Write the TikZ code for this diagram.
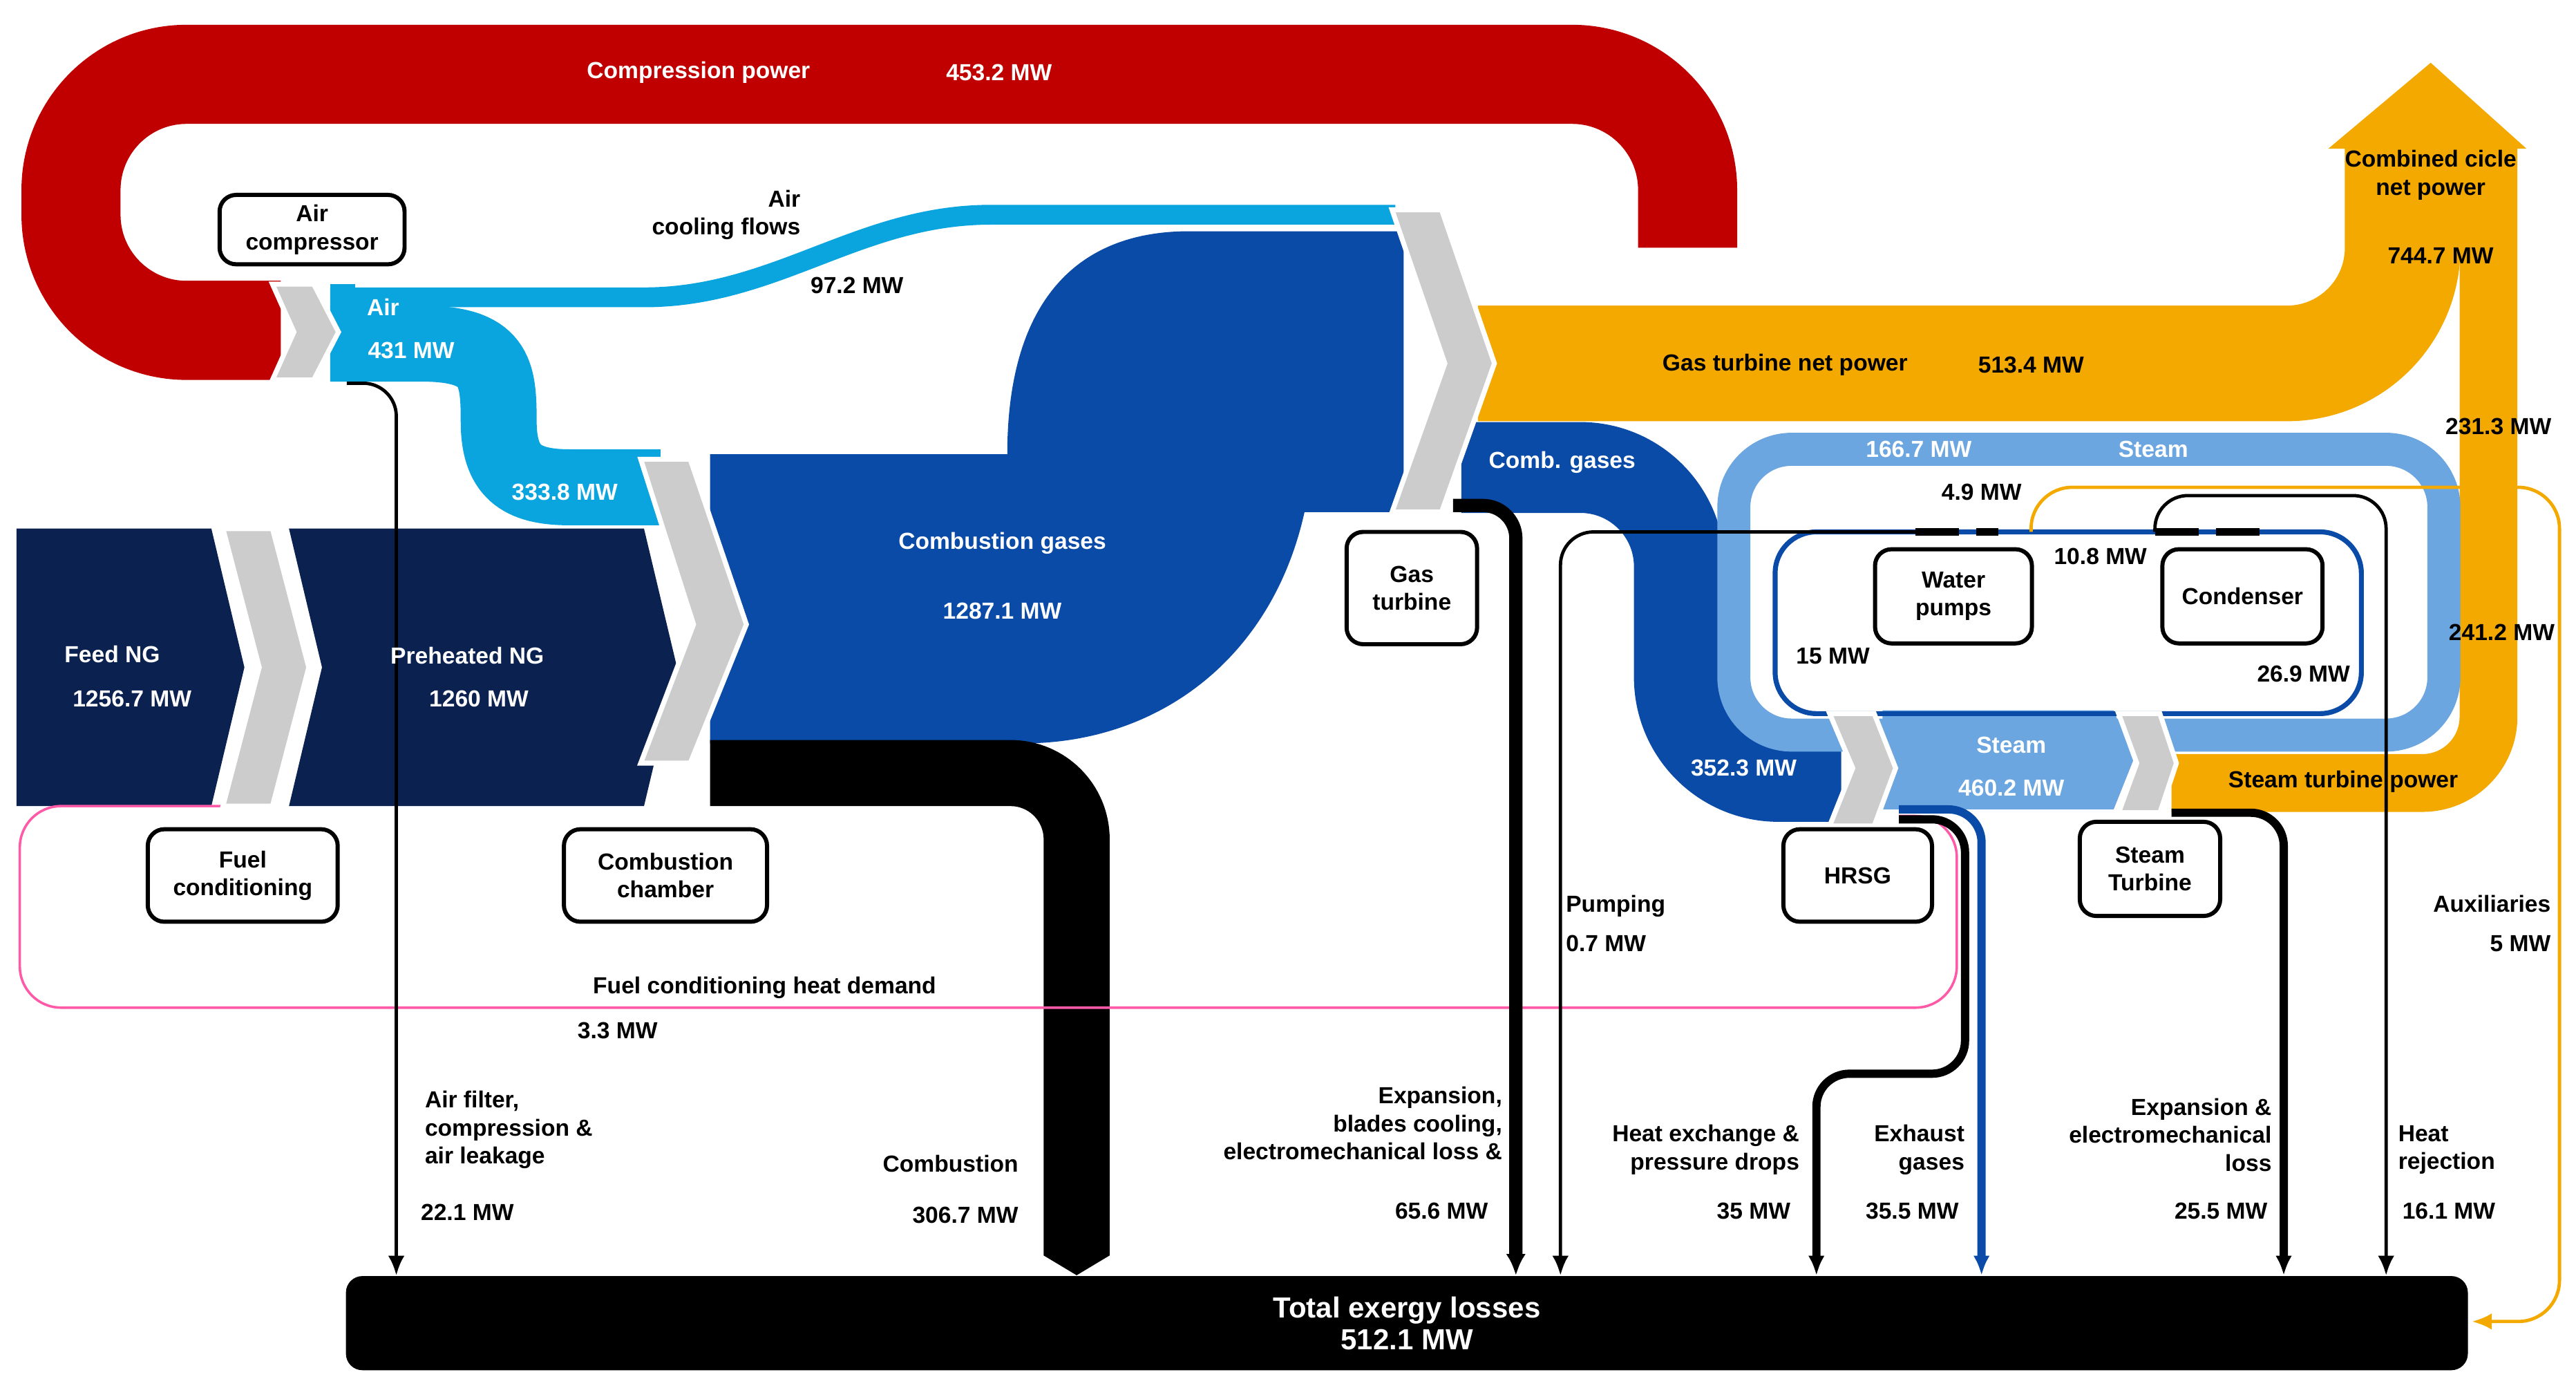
\documentclass[tikz,border=0pt]{standalone}
\usepackage{fontspec}
\setmainfont{Liberation Sans}
\usetikzlibrary{arrows.meta}
\definecolor{compred}{HTML}{C00000}
\definecolor{airblue}{HTML}{0AA5DF}
\definecolor{ngnavy}{HTML}{0B2150}
\definecolor{gasblue}{HTML}{0A4BA8}
\definecolor{powerorange}{HTML}{F4A900}
\definecolor{steamblue}{HTML}{6CA6E0}
\definecolor{chevgray}{HTML}{CCCCCC}
\definecolor{heatpink}{HTML}{FF5AA8}
\tikzset{
  lbl/.style={font=\fontsize{8}{9.6}\bfseries\selectfont, inner sep=0pt},
  wlbl/.style={lbl, text=white},
  unit/.style={draw=black, fill=white, line width=0.5mm, rounded corners=2mm,
    align=center, font=\fontsize{8}{9.6}\bfseries\selectfont, inner sep=1pt},
  chevron/.style={fill=chevgray, draw=white, line width=0.6mm},
  loss/.style={draw=black, line width=0.4mm, -{Latex[length=2.4mm,width=2mm]}, rounded corners=4mm},
}
\begin{document}
\begin{tikzpicture}[x=0.2mm, y=-0.2mm]
  \useasboundingbox (0,0) rectangle (1560,840);
  % bands
  \draw[compred, line width=12mm, rounded corners=14mm] (170,200) -- (43,200) -- (43,45) -- (1022,45) -- (1022,150);
  \fill[gasblue] (430,275) -- (610,275) .. controls (610,185) and (650,140) .. (720,140) -- (850,140)
    -- (850,310) -- (790,310) .. controls (770,400) and (700,450) .. (620,450) -- (430,450) -- cycle;
  \draw[airblue, line width=2.4mm] (200,180) -- (390,180) .. controls (470,180) and (520,130) .. (600,130) -- (845,130);
  \draw[airblue, line width=9.2mm] (200,208) -- (255,208) .. controls (300,208) and (302,225) .. (302,255)
    .. controls (302,285) and (315,295) .. (345,295) -- (400,295);
  \fill[airblue] (200,172) rectangle (215,231);
  \fill[ngnavy] (10,320) -- (128,320) -- (148,404) -- (128,488) -- (10,488) -- cycle;
  \fill[ngnavy] (175,320) -- (390,320) -- (410,404) -- (390,488) -- (175,488) -- (195,404) -- cycle;
  \draw[black, line width=8mm, rounded corners=8mm] (430,468) -- (652,468) -- (652,760);
  \fill[black] (632,760) -- (672,760) -- (652,772) -- cycle;
  \draw[powerorange, line width=14mm, rounded corners=14mm] (895,220) -- (1455,220) -- (1455,88);
  \draw[powerorange, line width=7mm, rounded corners=8mm] (1315,474) -- (1507,474) -- (1507,88);
  \fill[powerorange] (1410,90) -- (1530,90) -- (1472,38) -- cycle;
  \draw[gasblue, line width=11mm, rounded corners=12mm] (885,283) -- (1017,283) -- (1017,470) -- (1115,470);
  \draw[steamblue, line width=4mm, rounded corners=7mm] (1050,272) rectangle (1480,445);
  \fill[steamblue] (1140,430) -- (1280,430) -- (1292,460) -- (1280,490) -- (1140,490) -- cycle;
  \draw[gasblue, line width=0.6mm, rounded corners=5mm] (1075,322) rectangle (1430,432);
  % thin flows
  \draw[heatpink, line width=0.3mm, rounded corners=5mm] (140,488) -- (12,488) -- (12,610) -- (1185,610) -- (1185,494) -- (1150,494);
  \draw[black, line width=1mm, dash pattern=on 15pt off 6pt] (1160,322) -- (1210,322);
  \draw[black, line width=1mm, dash pattern=on 15pt off 6pt] (1305,322) -- (1372,322);
  \draw[powerorange, line width=0.4mm, rounded corners=5mm, -{Latex[length=2.4mm,width=2mm]}] (1230,322) -- (1230,295) -- (1550,295) -- (1550,800) -- (1497,800);
  % exergy losses
  \node[fill=black, rounded corners=2mm, minimum width=257mm, minimum height=11.4mm, text=white, align=center,
    font=\fontsize{10}{11}\bfseries\selectfont, inner sep=0pt] (total) at (852,801) {Total exergy losses\\512.1 MW};
  \draw[loss] (1160,322) -- (945,322) -- (945,0 |- total.north);
  \draw[loss] (210,232) -- (240,232) -- (240,0 |- total.north);
  \draw[loss, line width=1.6mm, -{Latex[length=2.6mm,width=2.4mm]}] (880,306) -- (918,306) -- (918,0 |- total.north);
  \draw[loss, line width=1mm] (1150,496) -- (1190,496) -- (1190,650) -- (1100,650) -- (1100,0 |- total.north);
  \draw[loss, draw=gasblue, line width=1mm] (1150,490) -- (1200,490) -- (1200,0 |- total.north);
  \draw[loss, line width=1mm] (1315,492) -- (1383,492) -- (1383,0 |- total.north);
  \draw[loss] (1305,322) -- (1305,300) -- (1445,300) -- (1445,0 |- total.north);
  % chevrons
  \draw[chevron] (165,172) -- (190,172) -- (205,201) -- (190,230) -- (165,230) -- (178,201) -- cycle;
  \draw[chevron] (135,320) -- (165,320) -- (187,404) -- (165,488) -- (135,488) -- (157,404) -- cycle;
  \draw[chevron] (388,278) -- (418,278) -- (452,378) -- (418,462) -- (388,462) -- (420,378) -- cycle;
  \draw[chevron] (843,127) -- (873,127) -- (905,220) -- (873,310) -- (843,310) -- (875,220) -- cycle;
  \draw[chevron] (1108,432) -- (1135,432) -- (1148,465) -- (1135,500) -- (1108,500) -- (1122,465) -- cycle;
  \draw[chevron] (1283,432) -- (1308,432) -- (1318,462) -- (1308,492) -- (1283,492) -- (1294,462) -- cycle;
  % units
  \node[unit, minimum width=22.4mm, minimum height=8.4mm] (compressor) at (189,139) {Air\\compressor};
  \node[unit, minimum width=23mm, minimum height=11.2mm] (fuelcond) at (147,530) {Fuel\\conditioning};
  \node[unit, minimum width=24.6mm, minimum height=11.2mm] (chamber) at (403,530) {Combustion\\chamber};
  \node[unit, minimum width=15.8mm, minimum height=13.6mm] (turbine) at (855,356) {Gas\\turbine};
  \node[unit, minimum width=19mm, minimum height=11.4mm] (pumps) at (1183,361) {Water\\pumps};
  \node[unit, minimum width=19.4mm, minimum height=11.4mm] (condenser) at (1358,361) {Condenser};
  \node[unit, minimum width=18mm, minimum height=11.2mm] (hrsg) at (1125,530) {HRSG};
  \node[unit, minimum width=17mm, minimum height=11.4mm] (steamturb) at (1302,526) {Steam\\Turbine};
  % labels
  \node[wlbl] (lcomp) at (423,44) {Compression power};
  \node[wlbl] (vcomp) at (605,44) {453.2 MW};
  \node[lbl, align=right, anchor=east] (lcool) at (485,130) {Air\\cooling flows};
  \node[lbl] (vcool) at (519,173) {97.2 MW};
  \node[wlbl] (lair) at (232,186) {Air};
  \node[wlbl] (vair) at (249,212) {431 MW};
  \node[wlbl] (vair2) at (342,298) {333.8 MW};
  \node[wlbl] (lfeed) at (68,396) {Feed NG};
  \node[wlbl] (vfeed) at (80,423) {1256.7 MW};
  \node[wlbl] (lpre) at (283,397) {Preheated NG};
  \node[wlbl] (vpre) at (290,423) {1260 MW};
  \node[wlbl] (lgas) at (607,329) {Combustion gases};
  \node[wlbl] (vgas) at (607,370) {1287.1 MW};
  \node[lbl] (lgtp) at (1081,221) {Gas turbine net power};
  \node[lbl] (vgtp) at (1230,221) {513.4 MW};
  \node[wlbl] (lcg) at (946,280) {Comb. gases};
  \node[wlbl] (vloop) at (1162,272) {166.7 MW};
  \node[wlbl] (lloop) at (1304,272) {Steam};
  \node[lbl] (vpump1) at (1200,298) {4.9 MW};
  \node[lbl] (vcond1) at (1272,337) {10.8 MW};
  \node[lbl] (vpump2) at (1110,397) {15 MW};
  \node[lbl] (vcond2) at (1395,408) {26.9 MW};
  \node[wlbl] (vcg) at (1056,465) {352.3 MW};
  \node[wlbl] (lsteam) at (1218,451) {Steam};
  \node[wlbl] (vsteam) at (1218,477) {460.2 MW};
  \node[lbl] (lstp) at (1419,473) {Steam turbine power};
  \node[lbl] (vgtp2) at (1513,258) {231.3 MW};
  \node[lbl] (vstp) at (1515,383) {241.2 MW};
  \node[lbl, align=center] (lnet) at (1472,106) {Combined cicle\\net power};
  \node[lbl] (vnet) at (1478,155) {744.7 MW};
  \node[lbl, align=left, anchor=west] (lpumping) at (948,559) {Pumping\\[4pt]0.7 MW};
  \node[lbl, align=right, anchor=east] (laux) at (1545,559) {Auxiliaries\\[4pt]5 MW};
  \node[lbl] (lfch) at (463,598) {Fuel conditioning heat demand};
  \node[lbl] (vfch) at (374,624) {3.3 MW};
  \node[lbl, align=left, anchor=west] (lairloss) at (257,684) {Air filter,\\compression \&\\air leakage};
  \node[lbl] (vairloss) at (283,734) {22.1 MW};
  \node[lbl, align=right, anchor=east] (lcombloss) at (617,720) {Combustion\\[8pt]306.7 MW};
  \node[lbl, align=right, anchor=east] (lgtloss) at (910,680) {Expansion,\\blades cooling,\\electromechanical loss \&};
  \node[lbl] (vgtloss) at (873,733) {65.6 MW};
  \node[lbl, align=right, anchor=east] (lhx) at (1090,696) {Heat exchange \&\\pressure drops};
  \node[lbl] (vhx) at (1062,733) {35 MW};
  \node[lbl, align=right, anchor=east] (lexh) at (1190,696) {Exhaust\\gases};
  \node[lbl] (vexh) at (1158,733) {35.5 MW};
  \node[lbl, align=right, anchor=east] (lstloss) at (1376,687) {Expansion \&\\electromechanical\\loss};
  \node[lbl] (vstloss) at (1345,733) {25.5 MW};
  \node[lbl, align=left, anchor=west] (lrej) at (1452,696) {Heat\\rejection};
  \node[lbl] (vrej) at (1483,733) {16.1 MW};
\end{tikzpicture}
\end{document}
